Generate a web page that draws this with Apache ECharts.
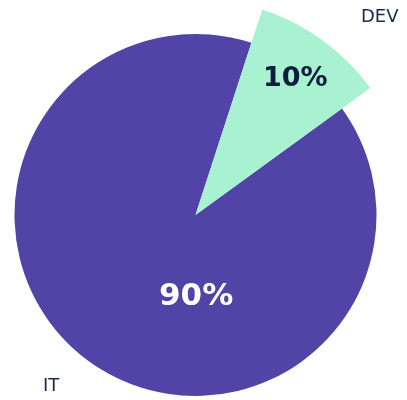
<!DOCTYPE html>
<html><head><meta charset="utf-8">
<script src="https://cdn.jsdelivr.net/npm/echarts@6/dist/echarts.min.js"></script>
<style>html,body{margin:0;padding:0;background:#fff}#c{width:407px;height:400px}</style>
</head><body><div id="c"></div>
<script>
const categories = ['DEV', 'IT'];
const values = [10, 90];
const colors = ['#A8F2D2', '#5243A6'];

const chart = echarts.init(document.getElementById('c'));
const total = values.reduce((a, b) => a + b, 0);
const pct = values.map(v => Math.round(v / total * 100) + '%');
const cx = 195.5, cy = 215;

function seriesFor(idx, r) {
  return {
    type: 'pie',
    center: [cx, cy],
    radius: [0, r],
    startAngle: 72,
    clockwise: true,
    silent: true,
    animation: false,
    z: 2,
    label: { show: false },
    labelLine: { show: false },
    data: categories.map((n, i) => ({
      name: n,
      value: values[i],
      itemStyle: { color: i === idx ? colors[i] : 'transparent' }
    }))
  };
}

chart.setOption({
  animation: false,
  series: [seriesFor(1, 181), seriesFor(0, 216)],
  graphic: {
    elements: [
      { type: 'text', z: 100, zlevel: 1, left: 263, top: 65, style: { text: pct[0], font: 'bold 27px "DejaVu Sans"', fill: '#0E1D3D' } },
      { type: 'text', z: 100, zlevel: 1, left: 159, top: 281, style: { text: pct[1], font: 'bold 31px "DejaVu Sans"', fill: '#FFFFFF' } },
      { type: 'text', z: 100, zlevel: 1, left: 361, top: 8, style: { text: categories[0], font: '18px "DejaVu Sans"', fill: '#172B4D' } },
      { type: 'text', z: 100, zlevel: 1, left: 43, top: 377, style: { text: categories[1], font: '18px "DejaVu Sans"', fill: '#172B4D' } }
    ]
  }
});
</script></body></html>
